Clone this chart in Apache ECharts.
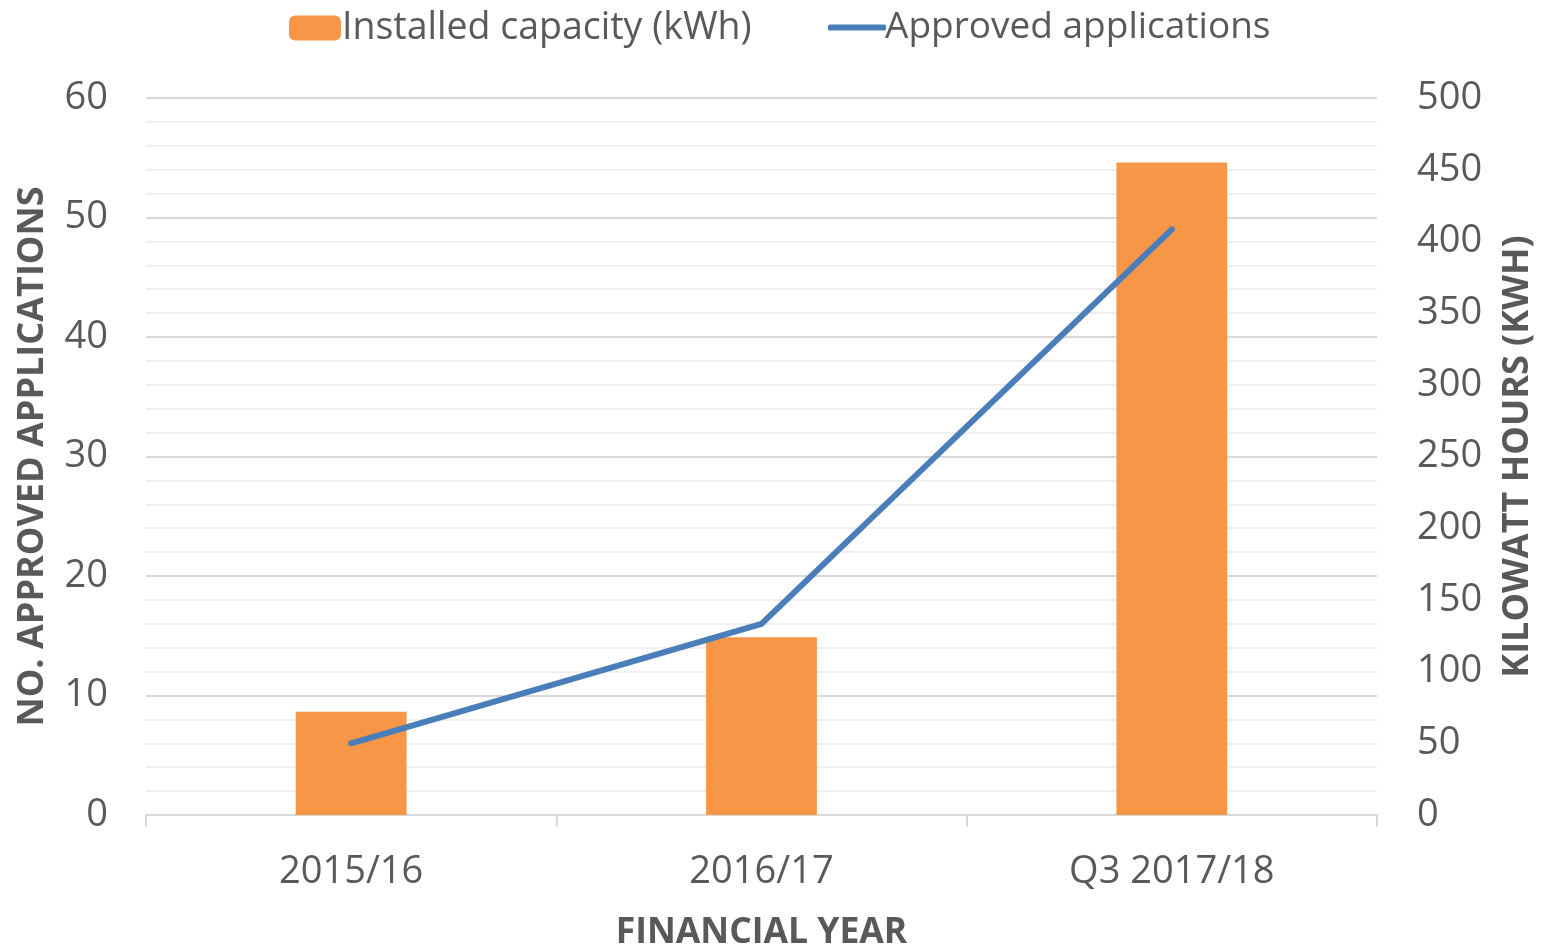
<!DOCTYPE html>
<html>
<head>
<meta charset="utf-8">
<script src="https://cdn.jsdelivr.net/npm/echarts@6/dist/echarts.min.js"></script>
<style>
html,body{margin:0;padding:0;background:#fff;}
#chart{width:1542px;height:947px;}
</style>
</head>
<body>
<div id="chart"></div>
<script>
const categories = ['2015/16', '2016/17', 'Q3 2017/18'];
const installedCapacity = [72, 124, 455];
const approvedApplications = [6, 16, 49];

const FONT = '"Open Sans", sans-serif';
const TXT = '#595959';

const chart = echarts.init(document.getElementById('chart'));
chart.setOption({
  animation: false,
  backgroundColor: '#ffffff',
  textStyle: { fontFamily: FONT },
  legend: [
    {
      left: 284, top: 4,
      itemWidth: 52, itemHeight: 25,
      data: ['Installed capacity (kWh)'],
      textStyle: { fontFamily: FONT, fontSize: 37.5, color: TXT, padding: [0, 0, 0, -4] }
    },
    {
      left: 823, top: 4,
      itemWidth: 58, itemHeight: 6,
      data: [{ name: 'Approved applications', icon: 'roundRect' }],
      textStyle: { fontFamily: FONT, fontSize: 37, color: TXT, padding: [0, 0, 0, -6] }
    }
  ],
  grid: { left: 146, right: 165, top: 98, bottom: 132, containLabel: false, outerBoundsMode: 'none' },
  xAxis: {
    type: 'category',
    data: categories,
    boundaryGap: true,
    name: 'FINANCIAL YEAR',
    nameLocation: 'middle',
    nameGap: 100,
    nameTextStyle: { fontFamily: FONT, fontSize: 35.5, fontWeight: 'bold', color: TXT },
    axisLine: { lineStyle: { color: '#d9d9d9', width: 2 } },
    axisTick: { show: true, length: 12, lineStyle: { color: '#d9d9d9', width: 2 } },
    axisLabel: { fontFamily: FONT, fontSize: 38, color: TXT, margin: 38 }
  },
  yAxis: [
    {
      type: 'value',
      min: 0, max: 60, interval: 10,
      name: 'NO. APPROVED APPLICATIONS',
      nameLocation: 'middle',
      nameRotate: 90,
      nameGap: 95,
      nameTextStyle: { fontFamily: FONT, fontSize: 36, fontWeight: 'bold', color: TXT },
      axisLine: { show: false },
      axisTick: { show: false },
      axisLabel: { fontFamily: FONT, fontSize: 38, color: TXT, margin: 38 },
      splitLine: { show: true, lineStyle: { color: '#d9d9d9', width: 2 } },
      minorTick: { show: false, splitNumber: 5 },
      minorSplitLine: { show: true, lineStyle: { color: '#efefef', width: 2 } }
    },
    {
      type: 'value',
      min: 0, max: 500, interval: 50,
      name: 'KILOWATT HOURS (KWH)',
      nameLocation: 'middle',
      nameRotate: 90,
      nameGap: 123,
      nameTextStyle: { fontFamily: FONT, fontSize: 36, fontWeight: 'bold', color: TXT },
      axisLine: { show: false },
      axisTick: { show: false },
      axisLabel: { fontFamily: FONT, fontSize: 38, color: TXT, margin: 40 },
      splitLine: { show: false }
    }
  ],
  series: [
    {
      name: 'Installed capacity (kWh)',
      type: 'bar',
      yAxisIndex: 1,
      data: installedCapacity,
      barWidth: '27%',
      itemStyle: { color: '#f79646' }
    },
    {
      name: 'Approved applications',
      type: 'line',
      yAxisIndex: 0,
      data: approvedApplications,
      symbol: 'none',
      lineStyle: { color: '#4a7ebb', width: 6, cap: 'round', join: 'round' },
      itemStyle: { color: '#4a7ebb' },
      z: 5
    }
  ]
});
</script>
</body>
</html>
